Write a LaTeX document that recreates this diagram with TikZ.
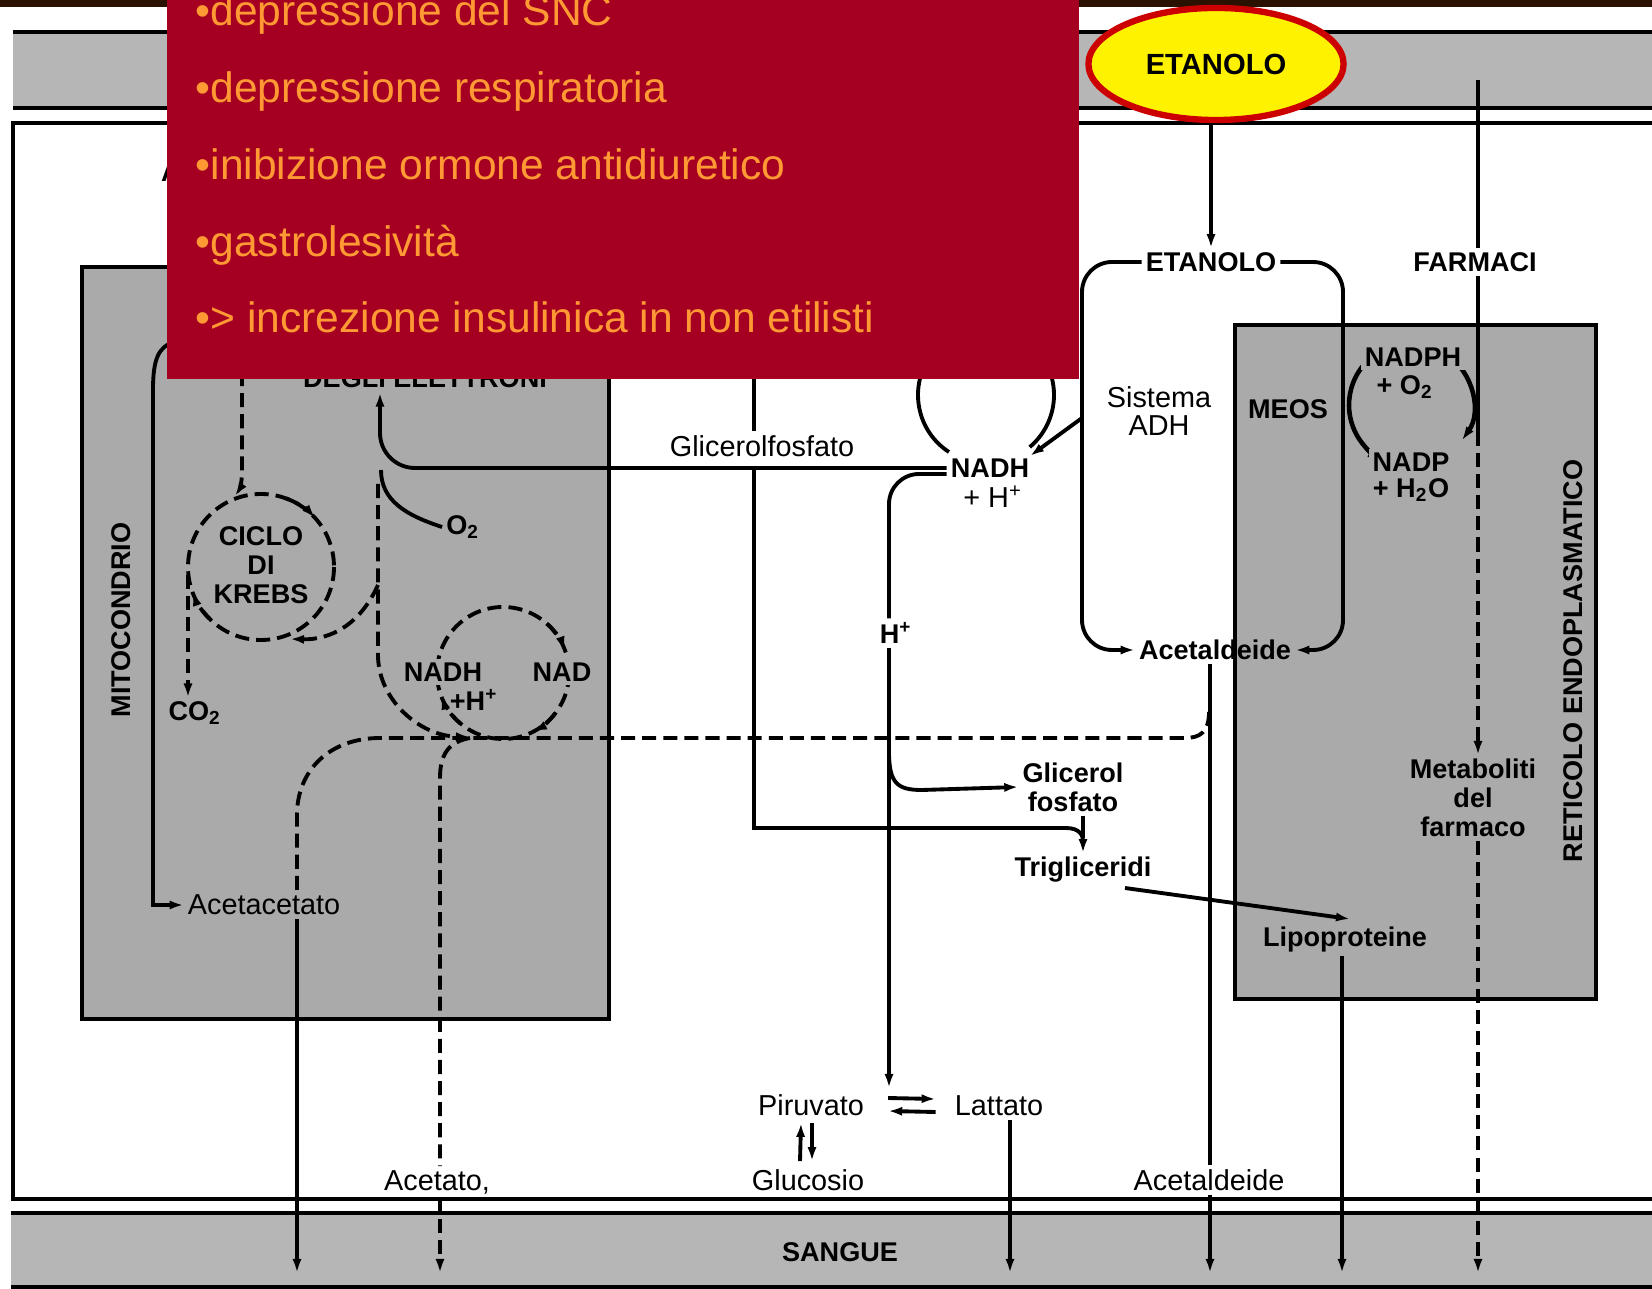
\documentclass[tikz,border=0pt]{standalone}
\usepackage{fontspec}
\setmainfont{Liberation Sans}
\usetikzlibrary{arrows.meta,shapes.geometric,calc}

\definecolor{slidered}{RGB}{165,0,33}
\definecolor{slideorange}{RGB}{255,153,51}
\definecolor{cellgray}{RGB}{170,170,170}
\definecolor{bandgray}{RGB}{182,182,182}
\definecolor{topbrown}{RGB}{43,17,0}
\definecolor{ovalred}{RGB}{204,0,0}

\tikzset{
  lab/.style={font=\fontsize{7.7}{8.2}\selectfont\bfseries, inner sep=1pt, align=center},
  labr/.style={font=\fontsize{8.2}{8.0}\selectfont, inner sep=1pt, align=center},
  flow/.style={line width=1.1pt},
  dflow/.style={line width=1.1pt, dash pattern=on 4pt off 2pt},
  arr/.style={-{Latex[length=4pt,width=2.6pt]}},
  slideline/.style={font=\fontsize{12.1}{14}\selectfont, text=slideorange, anchor=base west, inner sep=0pt},
}

\begin{document}
\begin{tikzpicture}[x=0.01cm,y=-0.01cm]
  \useasboundingbox (0,0) rectangle (1652,1289);
  \fill[white] (0,0) rectangle (1652,1289);

  % membrane, cellula, sangue
  \fill[topbrown] (0,0) rectangle (1652,7);
  \fill[bandgray] (13,32) rectangle (1652,108);
  \draw[flow] (13,32) -- (1652,32) (13,108) -- (1652,108);
  \fill[bandgray] (11,1213) rectangle (1652,1287);
  \draw[flow] (11,1213) -- (1652,1213) (11,1287) -- (1652,1287);
  \draw[line width=1.3pt] (1652,123) -- (13,123) -- (13,1199) -- (1652,1199);

  % compartimenti
  \draw[line width=1.3pt, fill=cellgray] (82,267) rectangle (609,1019);
  \draw[line width=1.3pt, fill=cellgray] (1235,325) rectangle (1596,999);

  % cicli
  \coordinate (kc) at (261,567);
  \coordinate (nc) at (503,673);
  \coordinate (ac) at (986,395);
  \coordinate (mc) at (1411,405);
  \draw[dflow] (kc) circle[radius=73];
  \draw[dflow, arr] (kc) ++(290:73) arc[start angle=290, end angle=318, radius=73];
  \draw[dflow, arr] (kc) ++(135:73) arc[start angle=135, end angle=160, radius=73];
  \draw[dflow] (nc) circle[radius=66];
  \draw[dflow, arr] (nc) ++(312:66) arc[start angle=312, end angle=340, radius=66];
  \draw[dflow, arr] (nc) ++(130:66) arc[start angle=130, end angle=160, radius=66];
  \draw[dflow, arr] (nc) ++(38:66) arc[start angle=38, end angle=63, radius=66];
  \draw[flow] (ac) ++(123:68) arc[start angle=123, end angle=410, radius=68];
  \draw[line width=1.3pt, arr] (mc) ++(235:62) arc[start angle=235, end angle=118, radius=62];
  \draw[line width=1.3pt, arr] (mc) ++(305:62) arc[start angle=305, end angle=395, radius=62];

  % etichette
  \node[lab, rotate=90] (mito) at (121,620) {MITOCONDRIO};
  \node[lab, rotate=90] (rer) at (1573,661) {RETICOLO ENDOPLASMATICO};
  \node[lab] (sangue) at (840,1252) {SANGUE};
  \node[lab, anchor=base] (catena) at (425,388) {DEGLI ELETTRONI};
  \node[lab, anchor=base west] (frag) at (157,182) {A};
  \node[lab] (krebs) at (261,565) {CICLO\\DI\\KREBS};
  \node[lab] (co2) at (195,713) {CO\textsubscript{2}};
  \node[lab] (o2) at (463,527) {O\textsubscript{2}};
  \node[lab, fill=cellgray] (nadhm) at (443,672) {NADH};
  \node[lab, fill=cellgray] (nadm) at (562,672) {NAD};
  \node[lab] (hm) at (474,700) {+H\textsuperscript{+}};
  \node[labr] (acac) at (264,905) {Acetacetato};
  \node[labr] (acet) at (437,1182) {Acetato,};
  \node[labr] (glifos) at (762,446) {Glicerolfosfato};
  \node[lab] (nadhc) at (990,468) {NADH};
  \node[labr] (hc) at (993,497) {+ H\textsuperscript{+}};
  \node[lab] (hp) at (896,633) {H\textsuperscript{+}};
  \node[lab] (glifos2) at (1073,787) {Glicerol\\fosfato};
  \node[lab] (trig) at (1083,870) {Trigliceridi};
  \node[labr] (piru) at (811,1105) {Piruvato};
  \node[labr] (latt) at (999,1106) {Lattato};
  \node[labr] (gluc) at (808,1180) {Glucosio};
  \node[lab] (etoh) at (1211,262) {ETANOLO};
  \node[lab] (farm) at (1475,262) {FARMACI};
  \node[labr] (adh) at (1159,411) {Sistema\\ADH};
  \node[lab] (meos) at (1288,409) {MEOS};
  \node[lab] (acald) at (1215,650) {Acetaldeide};
  \node[labr] (acald2) at (1209,1180) {Acetaldeide};
  \node[lab] (lipo) at (1345,939) {Lipoproteine};
  \node[lab] (metab) at (1473,798) {Metaboliti\\del\\farmaco};
  \node[lab, fill=cellgray] (nadph) at (1413,357) {NADPH};
  \node[lab] (o2m) at (1405,387) {+ O\textsubscript{2}};
  \node[lab, fill=cellgray] (nadp) at (1411,462) {NADP};
  \node[lab] (h2o) at (1411,490) {+ H\textsubscript{2}O};

  % uscite verso il sangue
  \coordinate (out1) at (297,1273);
  \coordinate (out2) at (440,1273);
  \coordinate (out3) at (1010,1273);
  \coordinate (out4) at (1210,1273);
  \coordinate (out5) at (1342,1273);
  \coordinate (out6) at (1478,1273);
  \coordinate (xel) at (380,0);
  \coordinate (xg) at (754,0);
  \coordinate (xh) at (889,0);

  % mitocondrio
  \draw[flow, arr] (175,342) .. controls (158,346) and (153,360) .. (153,390) -- (153,905) -- (acac.west);
  \draw[flow, arr] (acac.south -| out1) -- (out1);
  \draw[dflow, arr] (242,372) -- (242,470) .. controls (242,485) and (239,490) .. (235,496);
  \draw[dflow, arr] (188,575) -- (co2.north -| 188,0);
  \draw[dflow, arr] (378,585) .. controls (360,625) and (330,640) .. (290,639);
  \draw[flow, arr, rounded corners=0.35cm] (nadhc.west) -- (380,468) -- (catena.south -| xel);
  \draw[flow] (o2.west) .. controls (405,515) and (381,500) .. (381,470);
  \draw[dflow, arr] (378,484) -- (378,655) .. controls (378,700) and (420,736) .. (470,737);
  \draw[dflow] (1209,712) .. controls (1209,732) and (1200,738) .. (1185,738) -- (380,738)
    .. controls (330,738) and (297,770) .. (297,815) -- (acac.north -| out1);
  \draw[dflow] (470,738) .. controls (448,742) and (440,755) .. (440,778) -- (acet.north -| out2);
  \draw[dflow, arr] (acet.south -| out2) -- (out2);

  % citoplasma
  \draw[flow] (754,370) -- (glifos.north -| xg);
  \draw[flow, arr] (754,468) -- (754,828) -- (1066,828) .. controls (1080,828) and (1083,836) .. (trig.north);
  \draw[flow] (glifos2.south -| trig.north) -- ++(0,22);
  \draw[flow, rounded corners=0.3cm] ($(nadhc.west)+(0,6)$) -- (889,474) -- (hp.north -| xh);
  \draw[flow, arr] (hp.south -| xh) -- (889,1088);
  \draw[flow, arr] (889,752) .. controls (889,784) and (898,790) .. (922,790) -- (glifos2.west);
  \draw[flow, arr] (1082,418) -- (1030,456);
  \draw[flow, arr] ([shift={(20,-7)}]piru.east) -- ([shift={(-15,-7)}]latt.west);
  \draw[flow, arr] ([shift={(-15,6)}]latt.west) -- ([shift={(20,6)}]piru.east);
  \draw[flow, arr] ([shift={(-8,-4)}]gluc.north) -- ([shift={(-10,3)}]piru.south);
  \draw[flow, arr] ([shift={(1,3)}]piru.south) -- ([shift={(4,-4)}]gluc.north);
  \draw[flow, arr] (latt.south -| out3) -- (out3);

  % sistema ADH e MEOS
  \draw[flow, arr, rounded corners=0.3cm] (etoh.west) -- (1082,262) -- (1082,650) -- (acald.west);
  \draw[flow, arr, rounded corners=0.3cm] (etoh.east) -- (1343,262) -- (1343,650) -- (acald.east);
  \draw[flow] (acald.south -| out4) -- (acald2.north -| out4);
  \draw[flow, arr] (acald2.south -| out4) -- (out4);
  \draw[flow, arr] (1125,888) -- (1350,919);
  \draw[flow, arr] (lipo.south -| out5) -- (out5);
  \draw[flow] (1478,80) -- (farm.north -| out6);
  \draw[flow] (farm.south -| out6) -- (1478,432);
  \draw[dflow, arr] (1478,432) -- (metab.north -| out6);
  \draw[dflow, arr] (metab.south -| out6) -- (out6);

  % riquadro
  \fill[slidered] (167,0) rectangle (1079,379);
  \node[slideline] (d1) at (195,26) {•depressione del SNC};
  \node[slideline] (d2) at (195,103) {•depressione respiratoria};
  \node[slideline] (d3) at (195,180) {•inibizione ormone antidiuretico};
  \node[slideline] (d4) at (195,257) {•gastrolesività};
  \node[slideline] (d5) at (195,333) {•> increzione insulinica in non etilisti};

  \node[ellipse, draw=ovalred, line width=1.8pt, fill=yellow, minimum width=2.55cm,
    minimum height=1.12cm, font=\fontsize{8.3}{10}\selectfont\bfseries] (etanolo) at (1216,64) {ETANOLO};
  \draw[flow, arr] (etanolo.south -| etoh.north) -- (etoh.north);
\end{tikzpicture}
\end{document}
